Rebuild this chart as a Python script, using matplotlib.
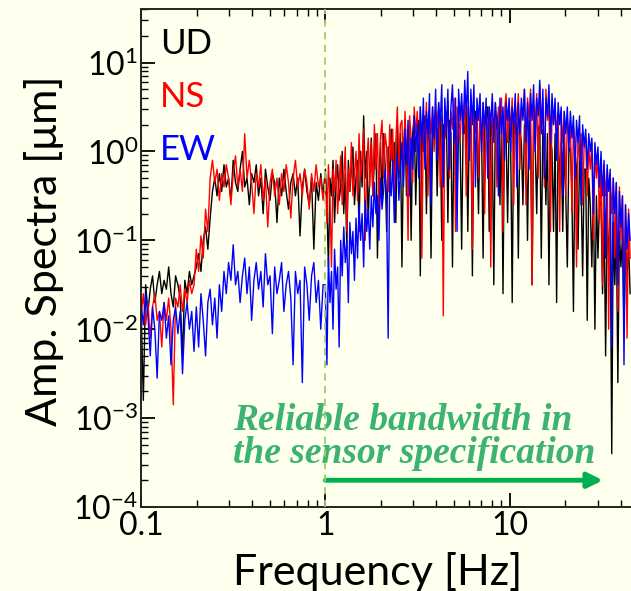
import numpy as np
import matplotlib
matplotlib.use('Agg')
import matplotlib.pyplot as plt
from matplotlib.ticker import FixedLocator, FuncFormatter, LogLocator, NullFormatter

plt.rcParams['font.family'] = ['Lato', 'DejaVu Sans']
plt.rcParams['mathtext.default'] = 'regular'

# log10 of amplitude spectra [um]
# low band: 0.1 - 1 Hz, high band: 1 - 45 Hz (log-spaced samples)
ud_lo = [-1.7, -2.8, -1.5, -1.8, -1.55, -1.4, -1.7, -1.5, -1.35, -1.6, -1.45, -1.55, -1.3, -1.6, -1.75, -1.4,
         -1.5, -1.65, -2.3, -1.45, -1.6, -1.35, -1.5, -1.4,
         -1.3, -1.15, -1.35, -1.0, -0.85, -1.1, -0.75, -0.45,
         -0.3, -0.5, -0.25, -0.45, -0.15, -0.4, -0.3, -0.55, -0.1, -0.35,
         -0.45, -0.2, 0.0, -0.4, -0.3, -0.6, -0.25, -0.35, -0.15, -0.5,
         -0.3, -0.7, -0.2, -0.4, -0.55, -0.25, -0.35, -0.8, -0.3, -0.5,
         -0.2, -0.45, -0.65, -0.35, -0.25, -0.5, -0.3, -0.95, -0.4, -0.2,
         -0.45, -0.6, -0.3, -1.1, -0.35, -0.55, -0.25, -0.5]
ns_lo = [-1.85, -1.6, -1.95, -1.7, -2.1, -1.75, -1.6, -1.9, -1.8, -2.2, -1.7, -1.9, -1.65, -2.0, -2.85, -1.65,
         -1.75, -1.5, -1.8, -1.55, -1.7, -1.45, -1.6, -1.5,
         -1.1, -1.35, -0.95, -1.2, -0.65, -0.9, -0.3, -0.1,
         -0.35, -0.2, -0.55, -0.25, -0.4, -0.15, -0.3, -0.6, -0.25, -0.05,
         -0.4, -0.2, -0.45, 0.2, -0.3, -0.1, -0.35, -0.7, -0.25, -0.4,
         -0.15, -0.55, -0.3, -0.85, -0.35, -0.2, -0.5, -0.3, -0.6, -0.25,
         -0.45, -0.15, -0.35, -0.75, -0.3, -0.1, -0.4, -0.25, -0.5, -0.2,
         -0.35, -0.65, -0.25, -0.45, -0.15, -0.4, -0.3, -0.55]
ew_lo = [-1.7, -1.95, -1.6, -1.85, -2.3, -1.75, -2.0, -2.55, -1.8, -1.9, -1.7, -2.1, -1.85, -2.4, -1.9, -1.75,
         -2.05, -1.8, -2.5, -1.9, -1.7, -2.0, -1.8, -2.25,
         -1.75, -2.2, -1.6, -1.9, -2.3, -1.7, -1.55, -1.95, -1.65, -2.1, -1.5, -1.8,
         -1.35, -1.6, -1.25, -1.45, -1.05, -1.5, -1.35, -1.7, -1.4, -1.2,
         -1.6, -1.3, -1.9, -1.45, -1.25, -1.55, -1.35, -1.75, -1.15, -1.5,
         -1.4, -2.05, -1.3, -1.6, -1.45, -1.25, -1.8, -1.5, -1.35, -1.65,
         -2.4, -1.35, -1.6, -1.45, -2.6, -1.3, -1.5, -1.9, -1.4, -1.25,
         -1.7, -1.45, -2.0, -1.5]

ud_hi = [-0.2, -0.6, -1.3, -0.3, -0.5, -0.1, -0.8, -0.35, -0.15, -0.55,
         -0.4, 0.0, -0.7, -0.25, -1.1, -0.1, -0.45, -0.2, 0.05, -0.6,
         -0.3, -0.1, -0.9, 0.0, -0.4, 0.4, -0.3, 0.0, -0.8, -0.2,
         0.15, -0.5, -0.1, 0.2, -1.2, -0.3, 0.1, -0.6, 0.2, -0.15,
         -0.9, 0.05, -0.4, 0.25, -0.2, 0.1, -0.8, 0.3, -0.3, 0.2,
         -1.3, 0.0, 0.35, -0.5, 0.15, 0.3, -1.0, 0.2, 0.4, -0.6,
         0.1, 0.35, -1.4, 0.25, 0.0, 0.4, -0.7, 0.3, 0.1, -1.2,
         0.35, 0.2, 0.45, -0.5, 0.25, 0.4, -1.0, 0.3, 0.15, 0.45,
         -0.8, 0.35, 0.2, -1.3, 0.4, 0.3, -0.6, 0.4, 0.1, -1.1,
         0.35, 0.2, 0.45, -0.9, 0.3, 0.4, -1.4, 0.3, 0.45, 0.1,
         -0.7, 0.35, 0.2, -1.2, 0.4, 0.3, 0.5, -0.9, 0.35, 0.15,
         -1.5, 0.4, 0.25, 0.45, -0.6, 0.35, -1.6, 0.4, 0.2, -0.8,
         0.3, 0.1, -1.7, 0.35, 0.2, 0.3, -1.2, 0.25, 0.1, -0.6,
         0.3, 0.2, -1.0, 0.35, 0.15, -1.5, 0.3, 0.1, -0.7, 0.25,
         0.3, -1.2, 0.25, 0.1, -0.6, 0.2, -1.5, 0.15, 0.0, -0.9,
         0.2, -1.7, 0.15, -0.3, 0.1, -0.9, 0.1, -0.5, -1.3, 0.0,
         0.05, -0.5, -1.8, 0.0, -0.2, -1.1, -0.1, -0.4, -1.4, -0.2,
         -0.2, -1.9, -0.3, -0.6, -1.3, -0.4, -2.0, -0.5, -1.2, -0.55,
         -0.6, -1.6, -0.65, -2.3, -0.7, -1.2, -0.75, -3.4, -0.8, -1.5,
         -0.85, -2.6, -0.9, -1.3, -0.95, -2.0, -1.0, -1.4, -1.05, -1.6]
ns_hi = [-0.3, -0.8, -0.15, -0.55, -1.3, -0.2, -0.45, -0.1, -0.7, -0.35,
         -0.05, -0.6, -0.3, 0.05, -0.9, -0.2, -0.45, 0.1, -0.5, -0.25,
         0.0, -0.55, 0.2, -0.3, -0.1, 0.25, -1.0, -0.15, 0.15, -0.4,
         0.1, -0.5, 0.3, -0.2, 0.2, -0.7, 0.15, 0.35, -0.3, 0.2,
         0.05, -0.45, 0.3, -0.1, 0.25, -0.6, 0.1, 0.5, -0.2, 0.3,
         0.35, -0.3, 0.45, 0.0, -1.0, 0.4, 0.15, -0.35, 0.5, 0.2,
         0.45, -0.2, 0.5, -1.2, 0.35, 0.1, 0.55, -0.5, 0.4, 0.2,
         0.5, 0.0, 0.45, 0.3, 0.55, -0.4, 0.4, -1.85, 0.5, 0.2,
         0.55, -0.3, 0.45, 0.25, 0.6, -0.9, 0.5, 0.35, 0.1, 0.55,
         0.3, 0.6, -0.5, 0.5, 0.25, 0.55, -1.1, 0.45, 0.2, 0.5,
         -0.3, 0.45, 0.1, 0.55, -0.7, 0.4, 0.3, 0.5, -1.3, 0.45,
         0.2, 0.55, -0.4, 0.5, 0.3, 0.6, -0.9, 0.45, 0.65, 0.1,
         0.5, 0.25, 0.6, -0.6, 0.55, 0.3, 0.65, -0.2, 0.5, 0.4,
         0.7, -0.6, 0.6, 0.35, 0.7, -1.5, 0.5, 0.3, 0.65, -0.3,
         0.75, 0.2, 0.6, -0.4, 0.7, 0.35, 0.55, -0.9, 0.5, 0.3,
         0.5, 0.2, 0.45, -0.9, 0.4, 0.1, 0.45, -0.5, 0.35, 0.2,
         0.35, -0.7, 0.3, 0.1, -1.3, 0.25, -0.1, 0.2, -0.6, 0.1,
         0.15, -0.5, 0.05, -0.2, 0.1, -1.0, 0.0, -0.3, -0.05, -0.8,
         -0.1, -1.5, -0.15, -0.5, -0.2, -2.0, -0.25, -0.7, -0.3, -1.2,
         -0.35, -1.8, -0.4, -1.0, -0.5, -1.5, -0.6, -2.1, -0.65, -1.2]
ew_hi = [-1.5, -2.4, -1.2, -1.7, -1.35, -2.0, -1.1, -1.55, -1.3, -2.2,
         -1.0, -1.4, -0.85, -1.25, -1.0, -1.7, -0.8, -1.15, -0.9, -1.45,
         -0.75, -1.2, -0.6, -1.0, -0.7, -1.3, -0.55, -0.9, -0.65, -1.1,
         -0.5, -0.85, -0.35, -0.7, -0.5, -1.0, -0.3, -0.65, -0.45, -0.2,
         -0.6, -2.1, -0.25, -0.5, -0.1, -0.8, -0.3, -0.05, -0.55, -0.2,
         0.1, -0.4, 0.25, -0.15, 0.35, -0.5, 0.15, -0.2, 0.4, 0.0,
         0.3, -0.3, 0.5, 0.1, 0.6, -0.2, 0.45, 0.2, 0.65, -0.6,
         0.5, 0.15, 0.7, -0.1, 0.55, 0.3, 0.75, -0.4, 0.6, 0.2,
         0.7, -0.2, 0.5, 0.75, 0.1, 0.6, -0.9, 0.7, 0.35, 0.65,
         0.2, 0.8, 0.4, 0.9, -0.1, 0.7, 0.3, 0.75, -0.4, 0.6,
         0.35, 0.65, 0.0, 0.55, 0.25, 0.6, -0.3, 0.5, 0.3, 0.65,
         0.1, 0.55, 0.3, -0.5, 0.6, 0.2, 0.5, -0.1, 0.55, 0.35,
         0.6, 0.0, 0.5, 0.3, 0.65, -0.4, 0.55, 0.2, 0.6, 0.35,
         0.7, 0.1, 0.55, -0.2, 0.65, 0.35, 0.75, 0.0, 0.6, 0.4,
         0.8, 0.2, 0.7, -0.3, 0.6, 0.4, 0.75, 0.1, 0.65, 0.3,
         0.6, -0.1, 0.55, 0.3, 0.5, -0.5, 0.45, 0.2, 0.5, 0.0,
         0.45, 0.15, 0.4, -0.3, 0.35, 0.1, 0.4, -0.6, 0.3, 0.05,
         0.25, -0.2, 0.2, 0.0, 0.15, -0.7, 0.1, -0.15, 0.05, -0.4,
         0.0, -0.5, -0.1, -1.2, -0.15, -0.45, -0.2, -2.2, -0.3, -0.7,
         -0.35, -1.5, -0.45, -0.85, -0.5, -2.4, -0.6, -1.1, -0.7, -1.0]

labels = ['UD', 'NS', 'EW']
colors = ['black', 'red', 'blue']
bg = '#FFFFEE'


def spectrum(lo, hi):
    f = np.concatenate([np.geomspace(0.1, 1, len(lo), endpoint=False), np.geomspace(1, 45, len(hi))])
    return f, 10.0 ** np.array(lo + hi)


fig = plt.figure(figsize=(6.31, 5.91), dpi=100, facecolor=bg)
ax = fig.add_axes([0.2235, 0.1421, 0.7765, 0.8427], facecolor=bg)

for lo, hi, lab, c in zip([ud_lo, ns_lo, ew_lo], [ud_hi, ns_hi, ew_hi], labels, colors):
    f, a = spectrum(lo, hi)
    ax.plot(f, a, color=c, lw=1.0, label=lab)

ax.set_xscale('log')
ax.set_yscale('log')
ax.set_xlim(0.1, 45.5)
ax.set_ylim(1e-4, 40)

# reliable band marker
ax.axvline(1, color='#9BCF6E', lw=1.3, ls=(0, (4, 3)), zorder=5)
ax.annotate('', xy=(32, 2.0e-4), xytext=(1, 2.0e-4),
            arrowprops=dict(arrowstyle='-|>,head_length=0.9,head_width=0.45', color='#00B050', lw=3.5,
                            shrinkA=0, shrinkB=0))
ax.text(0.315, 10 ** -3.13, 'Reliable bandwidth in', family='Liberation Serif', style='italic',
        weight='bold', fontsize=27, color='#3CB371', ha='left', va='baseline')
ax.text(0.315, 10 ** -3.51, 'the sensor specification', family='Liberation Serif', style='italic',
        weight='bold', fontsize=27, color='#3CB371', ha='left', va='baseline')

leg = ax.legend(loc='upper left', bbox_to_anchor=(0.0, 1.0), frameon=False, handlelength=0,
                handletextpad=0, labelcolor='linecolor', fontsize=25, labelspacing=0.6,
                borderaxespad=0.15)
for h in leg.legend_handles:
    h.set_visible(False)

ax.xaxis.set_major_locator(FixedLocator([0.1, 1, 10]))
ax.xaxis.set_major_formatter(FuncFormatter(lambda v, p: {0.1: '0.1', 1: '1', 10: '10'}.get(v, '')))
ax.xaxis.set_minor_locator(LogLocator(base=10, subs=np.arange(2, 10)))
ax.xaxis.set_minor_formatter(NullFormatter())
ax.yaxis.set_major_locator(FixedLocator([1e-4, 1e-3, 1e-2, 1e-1, 1, 10]))
ax.yaxis.set_major_formatter(FuncFormatter(lambda v, p: '10$^{%d}$' % round(np.log10(v))))
ax.yaxis.set_minor_locator(LogLocator(base=10, subs=np.arange(2, 10)))
ax.yaxis.set_minor_formatter(NullFormatter())

ax.tick_params(which='both', direction='in', top=True, right=False, labelsize=23, colors='black')
ax.tick_params(which='major', length=10, width=1.3)
ax.tick_params(axis='y', which='major', pad=2)
ax.tick_params(axis='x', which='major', pad=3)
ax.tick_params(which='minor', length=5, width=1.0)
ax.spines['right'].set_visible(False)
for s in ['left', 'top', 'bottom']:
    ax.spines[s].set_linewidth(1.4)
    ax.spines[s].set_color('#222222')

ax.set_xlabel('Frequency [Hz]', fontsize=31)
ax.set_ylabel('Amp. Spectra [\u03bcm]', fontsize=31)
ax.xaxis.set_label_coords(0.482, -0.09)
ax.yaxis.set_label_coords(-0.157, 0.514)

fig.savefig('out.png', dpi=100, facecolor=bg)
